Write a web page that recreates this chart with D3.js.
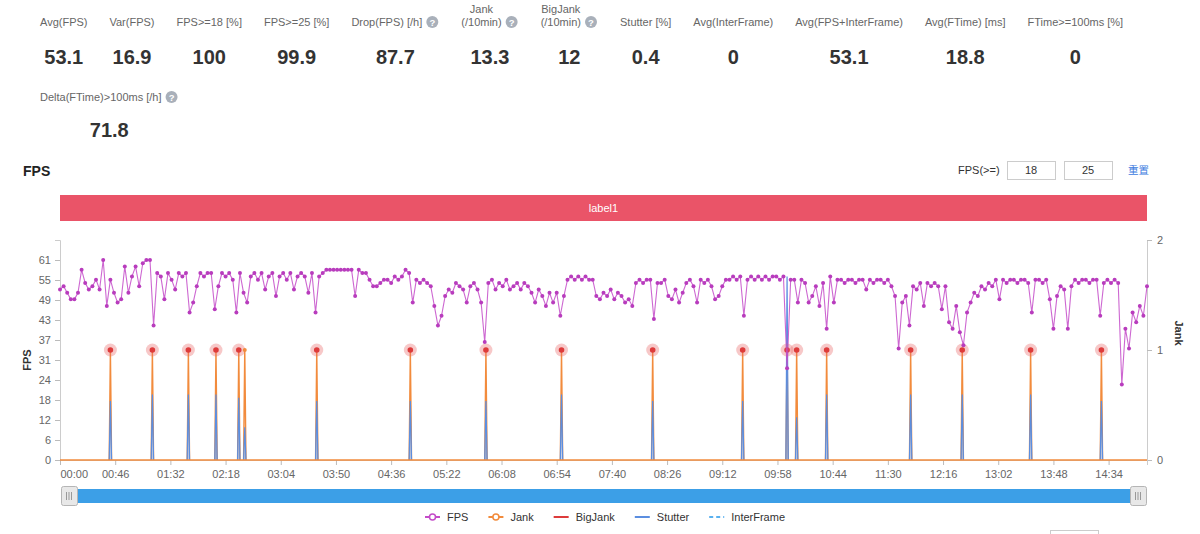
<!DOCTYPE html>
<html><head><meta charset="utf-8">
<script src="https://cdn.jsdelivr.net/npm/d3@7"></script>
<style>
body{margin:0;background:#fff;font-family:"Liberation Sans",Arial,Helvetica,sans-serif;}
svg{display:block}
</style></head><body>
<svg id="c" width="1200" height="534"></svg>
<script>
// ---------- data ----------
const statLabels = [["Avg(FPS)"],["Var(FPS)"],["FPS>=18 [%]"],["FPS>=25 [%]"],["Drop(FPS) [/h]"],["Jank","(/10min)"],["BigJank","(/10min)"],["Stutter [%]"],["Avg(InterFrame)"],["Avg(FPS+InterFrame)"],["Avg(FTime) [ms]"],["FTime>=100ms [%]"]];
const statValues = ["53.1","16.9","100","99.9","87.7","13.3","12","0.4","0","53.1","18.8","0"];
const statHelp = [false,false,false,false,true,true,true,false,false,false,false,false];
const stat2Labels = [["Delta(FTime)>100ms [/h]"]];
const stat2Values = ["71.8"];
const stat2Help = [true];

const sampleStep = 3; // seconds between FPS samples
const fpsValues = [
52,53,51,49,49,51,58,54,52,53,
55,52,61,47,55,51,48,49,59,51,
56,59,53,60,61,61,41,57,56,49,
57,55,52,57,56,57,45,48,53,57,
56,57,57,46,53,57,56,57,55,45,
57,51,48,56,57,55,57,52,56,57,
50,56,57,55,57,52,56,57,56,51,
57,45,56,57,58,58,58,58,58,58,
58,58,50,58,57,57,55,53,53,54,
55,55,54,56,55,56,58,57,48,55,
54,55,54,53,47,41,44,50,52,51,
54,53,52,48,53,54,52,48,36,54,
55,52,54,53,55,52,53,54,52,54,
53,51,48,52,50,47,51,48,51,44,
50,55,56,55,56,55,56,55,55,50,
49,51,50,52,49,51,50,48,49,47,
54,55,54,55,55,43,54,54,55,50,
49,52,48,51,54,55,53,48,55,54,
55,53,49,50,53,55,55,56,55,56,
44,55,56,55,56,55,56,55,56,56,
55,56,28,55,55,48,55,54,48,50,
53,47,54,40,56,48,55,55,54,55,
55,54,55,55,52,55,54,55,55,54,
55,53,50,34,48,50,41,53,52,54,
47,54,53,54,53,46,53,42,40,47,
39,35,45,48,51,50,53,52,54,53,
55,49,55,54,55,55,54,55,55,54,
45,55,55,54,55,49,40,50,53,52,
40,53,55,54,55,55,54,55,55,44,
54,55,54,55,54,23,40,34,45,42,
47,44,53];

// jank events (second), stutter peak value at that second, big-jank flag
const jankTimes    = [42,77,107,130,149,154,214,292,355,418,494,569,606,614,639,709,752,809,868];
const stutterPeaks = [18,20,20,20,19,10,18,18,18,20,18,18,56,13,20,20,20,20,18];
const bigJankFlag  = [1,1,1,1,1,0,1,1,1,1,1,1,1,1,1,1,1,1,1];

const totalSeconds = 906;
const xTickValues = [0,46,92,138,184,230,276,322,368,414,460,506,552,598,644,690,736,782,828,874];
const xTickLabels = ["00:00","00:46","01:32","02:18","03:04","03:50","04:36","05:22","06:08","06:54","07:40","08:26","09:12","09:58","10:44","11:30","12:16","13:02","13:48","14:34"];
const fpsTickValues = [0,6.1,12.2,18.3,24.4,30.5,36.6,42.7,48.8,54.9,61];
const fpsTickLabels = ["0","6","12","18","24","31","37","43","49","55","61"];
const fpsAxisMax = 67.1;
const jankTickValues = [0,1,2];
const legendNames = ["FPS","Jank","BigJank","Stutter","InterFrame"];
const thresholds = ["18","25"];

// ---------- styles ----------
const C = {fps:"#c44cc9", fpsDot:"#b83cbd", jank:"#f28b3c", big:"#dd3b3b", stutter:"#5b8ee0", inter:"#5ab1ef",
  label:"#666", value:"#333", axis:"#ccc", tick:"#666"};

const svg = d3.select("#c");

// ---------- stats ----------
function measure(txt, size, weight){
  const t = svg.append("text").attr("font-size",size).attr("font-weight",weight||"normal").text(txt);
  const w = t.node().getComputedTextLength(); t.remove(); return w;
}
function helpIcon(g, cx, cy){
  g.append("circle").attr("cx",cx).attr("cy",cy).attr("r",6).attr("fill","#a9b0ba");
  g.append("text").attr("x",cx).attr("y",cy+3.5).attr("text-anchor","middle").attr("font-size",9.5)
    .attr("font-weight","bold").attr("fill","#fff").text("?");
}
function statRow(labels, values, help, startX, labelBase, valueBase){
  let x0 = startX;
  const g = svg.append("g");
  labels.forEach((lines,i)=>{
    const w = d3.max(lines, l=>measure(l,11));
    const bw = w + (help[i]?17:0);
    lines.forEach((l,k)=>{
      g.append("text").attr("x",x0+w/2).attr("y",labelBase-(lines.length-1-k)*13)
        .attr("text-anchor","middle").attr("font-size",11).attr("fill",C.label).text(l);
    });
    if(help[i]) helpIcon(g, x0+w+10, labelBase-4);
    g.append("text").attr("x",x0+bw/2).attr("y",valueBase).attr("text-anchor","middle")
      .attr("font-size",20).attr("font-weight","bold").attr("fill",C.value).text(values[i]);
    x0 += bw + 22;
  });
}
statRow(statLabels, statValues, statHelp, 40, 26, 64);
statRow(stat2Labels, stat2Values, stat2Help, 40, 101, 137);

// ---------- header ----------
svg.append("text").attr("x",23).attr("y",176).attr("font-size",14).attr("font-weight","bold").attr("fill","#222").text("FPS");
svg.append("text").attr("x",958).attr("y",174).attr("font-size",11).attr("fill","#333").text("FPS(>=)");
thresholds.forEach((v,i)=>{
  const bx = 1007 + i*57;
  svg.append("rect").attr("x",bx+0.5).attr("y",161.5).attr("width",48).attr("height",18).attr("fill","#fff").attr("stroke","#ccc");
  svg.append("text").attr("x",bx+24).attr("y",174).attr("text-anchor","middle").attr("font-size",11).attr("fill","#333").text(v);
});
svg.append("text").attr("x",1128).attr("y",174).attr("font-size",10.5).attr("fill","#3c7be0")
  .attr("font-family","'Noto Sans CJK SC',sans-serif").text("重置");

// label bar
svg.append("rect").attr("x",60).attr("y",195).attr("width",1087).attr("height",26).attr("fill","#ea5468");
svg.append("text").attr("x",603.5).attr("y",212).attr("text-anchor","middle").attr("font-size",11).attr("fill","#fff").text("label1");

// ---------- chart ----------
const x = d3.scaleLinear().domain([0,totalSeconds]).range([60,1147]);
const yL = d3.scaleLinear().domain([0,fpsAxisMax]).range([460,240]);
const yR = d3.scaleLinear().domain([0,2]).range([460,240]);

function styleAxis(g){
  g.selectAll(".domain").attr("stroke",C.axis);
  g.selectAll(".tick line").attr("stroke","#bbb");
  g.selectAll(".tick text").attr("fill",C.tick).attr("font-size",11).attr("font-family","'Liberation Sans',Arial,sans-serif");
}
const gL = svg.append("g").attr("transform","translate(60,0)")
  .call(d3.axisLeft(yL).tickValues(fpsTickValues).tickFormat((d,i)=>fpsTickLabels[i]).tickSize(5).tickPadding(4));
styleAxis(gL);
const gR = svg.append("g").attr("transform","translate(1147,0)")
  .call(d3.axisRight(yR).tickValues(jankTickValues).tickFormat(d3.format("d")).tickSize(5).tickPadding(5));
styleAxis(gR);
const gX = svg.append("g").attr("transform","translate(0,460)")
  .call(d3.axisBottom(x).tickValues(xTickValues).tickFormat((d,i)=>xTickLabels[i]).tickSize(5).tickPadding(5));
styleAxis(gX);
gX.selectAll(".tick text").filter((d,i)=>i===0).attr("text-anchor","start");

svg.append("text").attr("transform","translate(31,360) rotate(-90)").attr("text-anchor","middle")
  .attr("font-size",11).attr("font-weight","bold").attr("fill","#333").text("FPS");
svg.append("text").attr("transform","translate(1175,333) rotate(90)").attr("text-anchor","middle")
  .attr("font-size",11).attr("font-weight","bold").attr("fill","#333").text("Jank");

// jank spikes (right axis)
const jankG = svg.append("g");
jankTimes.forEach(t=>{
  const pts = [[t-1,0],[t,1],[t+1,0]];
  jankG.append("path").attr("d",d3.line().x(d=>x(d[0])).y(d=>yR(d[1]))(pts))
    .attr("fill","none").attr("stroke",C.jank).attr("stroke-width",1.4);
});
// stutter spikes (left axis)
const stG = svg.append("g");
jankTimes.forEach((t,i)=>{
  const pts = [[t-1,0],[t,stutterPeaks[i]],[t+1,0]];
  stG.append("path").attr("d",d3.area().x(d=>x(d[0])).y0(yL(0)).y1(d=>yL(d[1]))(pts))
    .attr("fill","rgba(91,142,224,0.35)");
  stG.append("path").attr("d",d3.line().x(d=>x(d[0])).y(d=>yL(d[1]))(pts))
    .attr("fill","none").attr("stroke",C.stutter).attr("stroke-width",1.2);
});
// baseline (jank = 0)
svg.append("path").attr("d",d3.line().x(d=>x(d[0])).y(d=>yR(d[1]))([[0,0],[totalSeconds,0]]))
  .attr("stroke",C.jank).attr("stroke-width",1.5).attr("fill","none");

// jank markers
jankTimes.forEach((t,i)=>{
  if(bigJankFlag[i]){
    svg.append("circle").attr("cx",x(t)).attr("cy",yR(1)).attr("r",6.5).attr("fill","rgba(232,96,96,0.35)");
    svg.append("circle").attr("cx",x(t)).attr("cy",yR(1)).attr("r",2.8).attr("fill",C.big);
  } else {
    svg.append("circle").attr("cx",x(t)).attr("cy",yR(1)).attr("r",2).attr("fill",C.jank);
  }
});

// FPS line
const fpsData = fpsValues.map((v,i)=>[i*sampleStep, v]);
svg.append("path").attr("d",d3.line().x(d=>x(d[0])).y(d=>yL(d[1]))(fpsData))
  .attr("fill","none").attr("stroke",C.fps).attr("stroke-width",1.1).attr("stroke-opacity",0.85);
svg.append("g").selectAll("circle").data(fpsData).join("circle")
  .attr("cx",d=>x(d[0])).attr("cy",d=>yL(d[1])).attr("r",2).attr("fill",C.fpsDot);

// ---------- slider ----------
svg.append("rect").attr("x",68).attr("y",489).attr("width",1071).attr("height",14).attr("fill","#3c9fe7");
function handle(hx){
  svg.append("rect").attr("x",hx+0.5).attr("y",486.5).attr("width",16).attr("height",19).attr("rx",2)
    .attr("fill","#e8e8e8").attr("stroke","#b5b5b5");
  [5.5,8,10.5].forEach(o=>svg.append("line").attr("x1",hx+o).attr("x2",hx+o).attr("y1",492).attr("y2",500)
    .attr("stroke","#999").attr("stroke-width",1));
}
handle(61); handle(1130);

// ---------- legend ----------
const legColors = [C.fps,C.jank,C.big,C.stutter,C.inter];
const legW = legendNames.map(n=>measure(n,11));
const legTotal = d3.sum(legW) + legendNames.length*22 + (legendNames.length-1)*20;
let lx = 605 - legTotal/2;
const ly = 517;
legendNames.forEach((n,i)=>{
  const g = svg.append("g");
  const ln = g.append("line").attr("x1",lx).attr("x2",lx+15).attr("y1",ly).attr("y2",ly)
    .attr("stroke",legColors[i]).attr("stroke-width",2);
  if(i===4) ln.attr("stroke-dasharray","4,3");
  if(i<2) g.append("circle").attr("cx",lx+7.5).attr("cy",ly).attr("r",3).attr("fill","#fff").attr("stroke",legColors[i]).attr("stroke-width",1.5);
  g.append("text").attr("x",lx+22).attr("y",ly+4).attr("font-size",11).attr("fill","#333").text(n);
  lx += 22 + legW[i] + 20;
});

// partial control at bottom right
svg.append("rect").attr("x",1050.5).attr("y",530.5).attr("width",48).attr("height",14).attr("fill","#fff").attr("stroke","#ccc");
</script>
</body></html>
